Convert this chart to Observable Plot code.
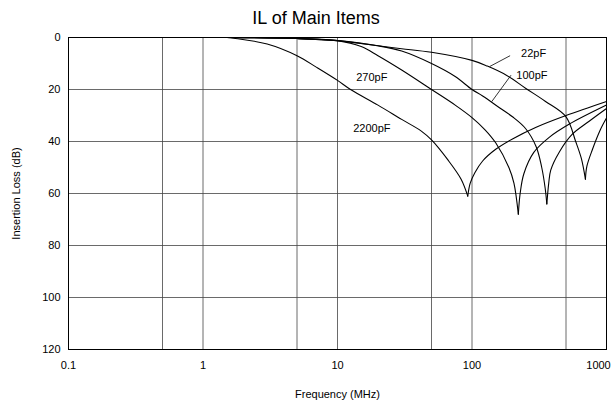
<!DOCTYPE html>
<html><head><meta charset="utf-8">
<script src="https://cdn.jsdelivr.net/npm/d3@7"></script>
<script src="https://cdn.jsdelivr.net/npm/@observablehq/plot@0.6"></script>
<style>
body{margin:0;background:#fff;font-family:"Liberation Sans",Arial,sans-serif;}
#title{position:relative;width:613px;height:30px;}
#title span{position:absolute;left:316px;top:7px;transform:translateX(-50%);font-size:18px;line-height:22px;color:#000;white-space:nowrap;}
</style></head><body>
<div id="title"><span>IL of Main Items</span></div>
<div id="chart"></div>
<script>
// Axis ticks and grid
const freqTicks = [0.1, 1, 10, 100, 1000];
const gridFreq = [0.5, 1, 5, 10, 50, 100, 500];
const lossTicks = [0, 20, 40, 60, 80, 100, 120];
const gridLoss = [20, 40, 60, 80, 100];

// Curves: [frequency MHz, insertion loss dB], split at the resonance notch
const c2200Fall = [[1.5,0],[1.7,0.3],[3,2.5],[5,7],[7,11.5],[10,16.5],[12.5,20],[20,26],[30,31.5],[42,36],[50,39.4],[66,47],[83,54.5],[93,61]];
const c2200Rise = [[93,61],[97,56],[105,52],[120,47.5],[150,43],[200,39],[300,34.5],[500,30],[1000,24.6]];
const c270Fall  = [[1.5,0],[5,0.4],[10,1.2],[15,3.5],[20,7],[30,12.5],[50,20],[75,26],[100,30.8],[125,35.5],[150,40.5],[188,50],[205,56],[221,68]];
const c270Rise  = [[221,68],[228,60],[243,52.4],[288,44.2],[373,38.5],[526,33.4],[1000,26]];
const c100Fall  = [[1.5,0],[5,0.4],[10,1.2],[20,3.2],[30,5.2],[50,10],[75,15],[100,20],[120,22.5],[160,27],[200,30.5],[250,35],[300,42],[330,50],[350,58],[360,64]];
const c100Rise  = [[360,64],[372,56],[385,51],[444,44.2],[557,37.2],[743,32.2],[1000,27.3]];
const c22Fall   = [[1.5,0],[5,0.4],[10,1.2],[20,3.2],[30,4.3],[50,5.7],[100,8.8],[130,11],[180,14.5],[250,19.5],[350,24.5],[500,30.5],[590,40],[650,46.5],[697,54.5]];
const c22Rise   = [[697,54.5],[715,49.5],[787,43],[900,35.5],[1000,31]];

// Curve labels
const labelNames = ["22pF", "100pF", "270pF", "2200pF"];
const labelFreq = [287, 279, 18, 18];
const labelLoss = [6, 14.5, 15.3, 35];

// Leader lines
const leaderFrom = [[192, 7], [195, 14.5]];
const leaderTo = [[135, 11.2], [140, 24.7]];

const series = [
  ["2200pF-a", c2200Fall], ["2200pF-b", c2200Rise],
  ["270pF-a", c270Fall], ["270pF-b", c270Rise],
  ["100pF-a", c100Fall], ["100pF-b", c100Rise],
  ["22pF-a", c22Fall], ["22pF-b", c22Rise]
];
const rows = series.flatMap(([key, pts]) => pts.map(([f, db]) => ({f, db, key})));

const chart = Plot.plot({
  width: 613, height: 375,
  marginLeft: 68, marginRight: 7, marginTop: 7, marginBottom: 56,
  style: {fontFamily: "'Liberation Sans', Arial, sans-serif", fontSize: "11px", color: "#000", background: "#fff"},
  x: {type: "log", domain: [0.1, 1000]},
  y: {domain: [0, 120], reverse: true},
  marks: [
    Plot.ruleX(gridFreq, {stroke: "#444", strokeWidth: 0.8}),
    Plot.ruleY(gridLoss, {stroke: "#444", strokeWidth: 0.8}),
    Plot.frame({stroke: "#000", strokeWidth: 1}),
    Plot.line(rows, {x: "f", y: "db", z: "key", curve: "catmull-rom", stroke: "#000", strokeWidth: 1.1}),
    Plot.link(leaderFrom, {x1: (d) => d[0], y1: (d) => d[1], x2: (d, i) => leaderTo[i][0], y2: (d, i) => leaderTo[i][1], stroke: "#000", strokeWidth: 0.8}),
    Plot.text(labelNames, {x: (d, i) => labelFreq[i], y: (d, i) => labelLoss[i], text: (d) => d, fontSize: 11, fill: "#000"}),
    Plot.axisX(freqTicks.slice(0, 4), {tickSize: 0, tickPadding: 12, tickFormat: (d) => String(d), label: "Frequency (MHz)", labelAnchor: "center", labelArrow: "none", labelOffset: 48}),
    Plot.axisX(freqTicks.slice(4), {tickSize: 0, tickPadding: 12, tickFormat: (d) => String(d), dx: -8, label: null}),
    Plot.axisY(lossTicks, {tickSize: 0, tickPadding: 8, tickFormat: (d) => String(d), label: "Insertion Loss (dB)", labelAnchor: "center", labelArrow: "none", labelOffset: 56})
  ]
});
document.getElementById("chart").appendChild(chart);
</script>
</body></html>
